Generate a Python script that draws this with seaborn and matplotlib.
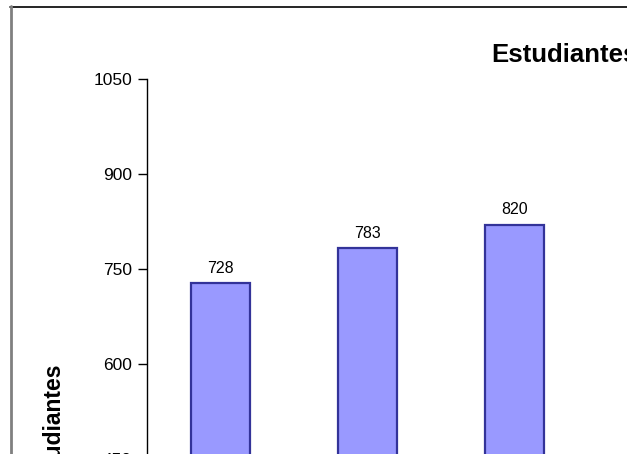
import matplotlib
matplotlib.use("Agg")
import matplotlib.pyplot as plt
import seaborn as sns
import pandas as pd
from matplotlib.lines import Line2D

# values (only the first three bars are in view)
categories = ['Año 1', 'Año 2', 'Año 3']
students = [728, 783, 820]
y_ticks = [450, 600, 750, 900, 1050]

sns.set_style("white")
plt.rcParams['font.family'] = ['Liberation Sans', 'DejaVu Sans']
plt.rcParams['text.color'] = 'black'
plt.rcParams['ytick.color'] = 'black'

df = pd.DataFrame({'Categoria': categories, 'Estudiantes': students})

W, H = 627, 454
fig = plt.figure(figsize=(W / 100, H / 100), dpi=100)

# plot area runs past the right and bottom edges of the picture (cropped chart)
left_px, top_px = 147.3, 79.0
px_per_cat = 147.0
px_per_unit = 95.0 / 150.0
height_px = (1050 - 450) * px_per_unit
width_px = 4 * px_per_cat
ax = fig.add_axes([left_px / W, (H - top_px - height_px) / H, width_px / W, height_px / H])

sns.barplot(x='Categoria', y='Estudiantes', data=df, ax=ax, width=0.4,
            color='#9999FF', edgecolor='#333399', linewidth=1.6, saturation=1)
ax.set_xlim(-0.5, 3.5)
ax.set_ylim(450, 1050)
ax.set_yticks(y_ticks)
ax.set_yticklabels([str(t) for t in y_ticks], fontsize=12.5, color='black')
ax.tick_params(axis='y', direction='out', length=6.5, width=1, pad=4.5, colors='black', left=True)
ax.tick_params(axis='x', bottom=False, labelbottom=False)
ax.set_xlabel('')
ax.set_ylabel('')
ax.grid(False)
for side in ['top', 'right', 'bottom']:
    ax.spines[side].set_visible(False)
ax.spines['left'].set_color('black')
ax.spines['left'].set_linewidth(1)

ax.bar_label(ax.containers[0], fmt='%d', padding=5.2, fontsize=11.5, color='black')

# titles
fig.text(491.7 / W, (H - 61.7) / H, 'Estudiantes', fontsize=18.5, fontweight='bold',
         ha='left', va='baseline', color='black')
fig.text(53 / W, (H - 362) / H, 'Estudiantes', fontsize=16.5, fontweight='bold',
         rotation=90, ha='center', va='top', color='black')

# chart frame (top and left edges are all that show)
fig.add_artist(Line2D([10 / W, 1.0], [(H - 6.5) / H] * 2, color='black', lw=1.2,
                      transform=fig.transFigure))
fig.add_artist(Line2D([10.5 / W] * 2, [0, (H - 6) / H], color='#808080', lw=2,
                      transform=fig.transFigure))

fig.savefig('out.png', dpi=100)
